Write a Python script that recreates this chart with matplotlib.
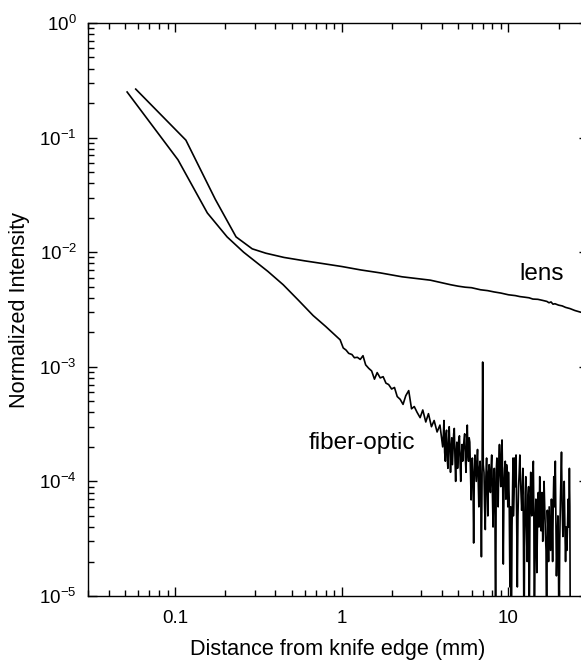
import matplotlib
matplotlib.use("Agg")
import matplotlib.pyplot as plt
from matplotlib.ticker import LogLocator, FuncFormatter, NullFormatter
import numpy as np

plt.rcParams['font.family'] = ['Liberation Sans', 'DejaVu Sans']
plt.rcParams['mathtext.fontset'] = 'custom'
plt.rcParams['mathtext.rm'] = 'Liberation Sans'

# lens curve (mm, normalized intensity)
lens_x = [0.058, 0.116, 0.174, 0.232, 0.29, 0.35, 0.45, 0.6, 0.75, 1.0, 1.3, 1.7,
          2.3, 3.4, 4.5, 5.0, 5.5, 6.0, 6.8, 7.5, 8.2, 9.0, 10.0, 11.0, 11.7, 12.5,
          13.3, 14.0, 15.0, 16.0, 17.0, 17.5, 18.0, 18.5, 19.0, 20.0, 21.0, 22.0,
          23.4, 25.0, 27.0, 30.0]
lens_y = [0.265, 0.095, 0.029, 0.0136, 0.0107, 0.0098, 0.0090, 0.0084, 0.0080, 0.0075,
          0.0070, 0.0066, 0.0061, 0.0057, 0.0052, 0.00505, 0.00495, 0.0049, 0.0047,
          0.00462, 0.0045, 0.0044, 0.00425, 0.00418, 0.0041, 0.00405, 0.0040, 0.0039,
          0.00388, 0.0038, 0.00372, 0.00362, 0.00368, 0.00352, 0.00355, 0.00345,
          0.0034, 0.0033, 0.00322, 0.0031, 0.0030, 0.0029]

# fiber-optic curve: smooth part and the 1-4 mm range
fiber_x = [0.0515, 0.104, 0.156, 0.205, 0.2575, 0.309, 0.36, 0.445, 0.55, 0.673, 0.8, 0.977,
           1.02, 1.06, 1.10, 1.15, 1.19, 1.24, 1.29, 1.34, 1.39, 1.45, 1.51, 1.57, 1.63,
           1.70, 1.77, 1.84, 1.91, 1.99, 2.07, 2.15, 2.24, 2.33, 2.42, 2.52, 2.62, 2.72,
           2.83, 2.95, 3.06, 3.19, 3.31, 3.45, 3.58, 3.73, 3.88]
fiber_y = [0.25, 0.064, 0.022, 0.0136, 0.0100, 0.0081, 0.0068, 0.0052, 0.0038, 0.00280, 0.00225, 0.00172,
           0.00146, 0.00140, 0.00131, 0.00128, 0.00120, 0.00121, 0.00116, 0.00125, 0.00104, 0.00097,
           0.00092, 0.00078, 0.00089, 0.00080, 0.00082, 0.00072, 0.00070, 0.00064, 0.00066, 0.00055,
           0.00052, 0.00047, 0.00056, 0.00062, 0.00043, 0.00045, 0.00040, 0.00036, 0.00042, 0.00033,
           0.00039, 0.00030, 0.00034, 0.00027, 0.00031]

# fiber-optic noisy tail, 4-10 mm
noise1_x = [4.03, 4.07, 4.10, 4.14, 4.18, 4.21, 4.25, 4.29, 4.33, 4.37, 4.41, 4.45, 4.49, 4.53,
            4.57, 4.61, 4.65, 4.69, 4.73, 4.78, 4.82, 4.86, 4.90, 4.95, 4.99, 5.03, 5.08, 5.13,
            5.17, 5.22, 5.27, 5.31, 5.36, 5.41, 5.46, 5.51, 5.56, 5.61, 5.66, 5.71, 5.76, 5.81,
            5.86, 5.92, 5.97, 6.02, 6.07, 6.13, 6.18, 6.24, 6.29, 6.35, 6.41, 6.47, 6.52, 6.58,
            6.64, 6.70, 6.76, 6.82, 6.88, 6.94, 7.00, 7.06, 7.13, 7.19, 7.26, 7.32, 7.39, 7.45,
            7.52, 7.59, 7.66, 7.72, 7.79, 7.86, 7.93, 8.00, 8.08, 8.15, 8.22, 8.30, 8.37, 8.44,
            8.52, 8.60, 8.67, 8.75, 8.83, 8.91, 8.99, 9.07, 9.15, 9.23, 9.31, 9.40, 9.48, 9.57,
            9.65, 9.74, 9.83, 9.91]
noise1_y = [2.0e-4, 2.6e-4, 3.4e-4, 1.8e-4, 1.5e-4, 2.5e-4, 2.8e-4, 1.6e-4, 1.3e-4, 2.2e-4,
            3.0e-4, 2.0e-4, 1.2e-4, 1.9e-4, 2.4e-4, 1.4e-4, 1.9e-4, 2.6e-4, 2.9e-4, 1.5e-4,
            1.0e-4, 1.8e-4, 2.2e-4, 1.3e-4, 1.6e-4, 2.3e-4, 2.5e-4, 1.4e-4, 1.0e-4, 1.7e-4,
            2.1e-4, 1.5e-4, 1.9e-4, 2.3e-4, 2.6e-4, 1.6e-4, 1.2e-4, 2.0e-4, 3.1e-4, 1.8e-4,
            1.5e-4, 2.4e-4, 2.2e-4, 1.2e-4, 6.9e-5, 1.3e-4, 1.6e-4, 9.0e-5, 2.9e-5, 1.2e-4,
            1.7e-4, 1.3e-4, 1.0e-4, 1.5e-4, 1.9e-4, 1.1e-4, 6.0e-5, 1.3e-4, 1.5e-4, 8.0e-5,
            2.2e-5, 1.0e-4, 1.1e-3, 1.4e-4, 1.2e-4, 6.0e-5, 3.8e-5, 1.1e-4, 1.6e-4, 9.0e-5,
            5.0e-5, 1.2e-4, 1.4e-4, 1.0e-4, 8.0e-5, 1.3e-4, 1.7e-4, 9.0e-5, 4.0e-5, 1.0e-4,
            1.3e-4, 5.0e-5, 3.0e-6, 1.2e-4, 1.6e-4, 1.1e-4, 6.0e-5, 1.5e-4, 2.1e-4, 1.2e-4,
            9.0e-5, 1.8e-4, 2.3e-4, 1.0e-4, 1.9e-5, 9.0e-5, 1.3e-4, 1.5e-4, 7.0e-5, 1.4e-4,
            1.2e-4, 6.0e-5]

# fiber-optic noisy tail, 10-23.5 mm
noise2_x = [10.0, 10.1, 10.2, 10.3, 10.4, 10.5, 10.6, 10.65, 10.7, 10.8, 10.9, 11.0, 11.1, 11.2,
            11.3, 11.4, 11.5, 11.6, 11.7, 11.85, 12.0, 12.1, 12.2, 12.3, 12.4, 12.5, 12.6, 12.7,
            12.8, 12.95, 13.1, 13.2, 13.3, 13.45, 13.6, 13.7, 13.8, 13.95, 14.1, 14.2, 14.3,
            14.45, 14.6, 14.7, 14.8, 14.95, 15.1, 15.25, 15.4, 15.55, 15.7, 15.8, 15.9, 16.05,
            16.2, 16.35, 16.5, 16.65, 16.8, 16.95, 17.1, 17.25, 17.4, 17.55, 17.7, 17.9, 18.1,
            18.25, 18.4, 18.55, 18.7, 18.9, 19.1, 19.25, 19.4, 19.6, 19.8, 19.95, 20.1, 20.3,
            20.5, 20.65, 20.8, 21.0, 21.2, 21.4, 21.6, 21.8, 22.0, 22.2, 22.4, 22.6, 22.8, 23.0,
            23.2, 23.35, 23.5]
noise2_y = [1.2e-4, 7.0e-5, 1.2e-5, 6.0e-5, 3.0e-6, 4.0e-5, 1.1e-4, 1.6e-4, 5.0e-5, 8.0e-5,
            1.6e-4, 9.0e-5, 1.7e-4, 4.0e-5, 1.2e-5, 5.0e-5, 9.0e-5, 1.2e-4, 1.7e-4, 9.0e-5,
            5.6e-5, 8.0e-5, 1.3e-4, 3.0e-5, 3.0e-6, 4.0e-5, 8.0e-5, 1.1e-4, 4.0e-5, 2.0e-5,
            7.5e-5, 9.0e-5, 3.0e-6, 5.0e-5, 1.2e-4, 6.0e-5, 5.0e-5, 1.0e-4, 1.5e-4, 5.0e-5,
            3.0e-6, 4.0e-5, 7.0e-5, 3.0e-5, 1.6e-5, 5.0e-5, 8.0e-5, 4.0e-5, 1.1e-4, 5.0e-5,
            3.7e-5, 6.0e-5, 8.0e-5, 3.0e-5, 5.0e-5, 1.0e-4, 6.0e-5, 3.5e-5, 2.5e-5, 3.0e-6,
            5.6e-5, 4.0e-5, 2.0e-5, 6.0e-5, 4.0e-5, 2.5e-5, 7.0e-5, 4.5e-5, 2.0e-5, 6.0e-5,
            1.1e-4, 6.0e-5, 1.5e-4, 5.0e-5, 1.5e-5, 3.0e-5, 5.0e-5, 2.0e-5, 3.0e-6, 3.0e-5,
            7.0e-5, 1.1e-4, 1.8e-4, 6.0e-5, 3.3e-5, 5.0e-5, 1.0e-4, 4.0e-5, 2.0e-5, 4.0e-5,
            2.5e-5, 4.0e-5, 7.0e-5, 4.0e-5, 1.3e-4, 6.0e-5, 3.0e-6]

fig = plt.figure(figsize=(5.81, 6.63), dpi=100)
ax = fig.add_axes([88 / 581, 67 / 663, 500 / 581, 573 / 663])

ax.plot(lens_x, lens_y, color='black', lw=1.2)
ax.plot(fiber_x + noise1_x + noise2_x, fiber_y + noise1_y + noise2_y, color='black', lw=1.2)

ax.set_xscale('log')
ax.set_yscale('log')
ax.set_xlim(0.03, 30)
ax.set_ylim(1e-5, 1)

ax.xaxis.set_major_locator(LogLocator(base=10, numticks=10))
ax.xaxis.set_minor_locator(LogLocator(base=10, subs=np.arange(2, 10), numticks=20))
ax.yaxis.set_major_locator(LogLocator(base=10, numticks=10))
ax.yaxis.set_minor_locator(LogLocator(base=10, subs=np.arange(2, 10), numticks=20))
ax.xaxis.set_major_formatter(FuncFormatter(lambda v, p: '%g' % v))
ax.yaxis.set_major_formatter(FuncFormatter(
    lambda v, p: r'$\mathregular{10^{%d}}$' % int(round(np.log10(v)))))
ax.xaxis.set_minor_formatter(NullFormatter())
ax.yaxis.set_minor_formatter(NullFormatter())

ax.tick_params(which='both', direction='in', top=True, right=True, width=1.0, labelsize=13.5)
ax.tick_params(which='major', length=6.5)
ax.tick_params(which='minor', length=4)
ax.tick_params(axis='x', pad=10)
ax.tick_params(axis='y', pad=8)
for s in ax.spines.values():
    s.set_linewidth(1.0)

ax.set_xlabel('Distance from knife edge (mm)', fontsize=15.6, labelpad=9)
ax.set_ylabel('Normalized Intensity', fontsize=15.6, labelpad=7)

ax.text(11.7, 5.7e-3, 'lens', fontsize=17.5, ha='left', va='baseline')
ax.text(0.628, 1.92e-4, 'fiber-optic', fontsize=17.5, ha='left', va='baseline')

fig.savefig('out.png', dpi=100)
